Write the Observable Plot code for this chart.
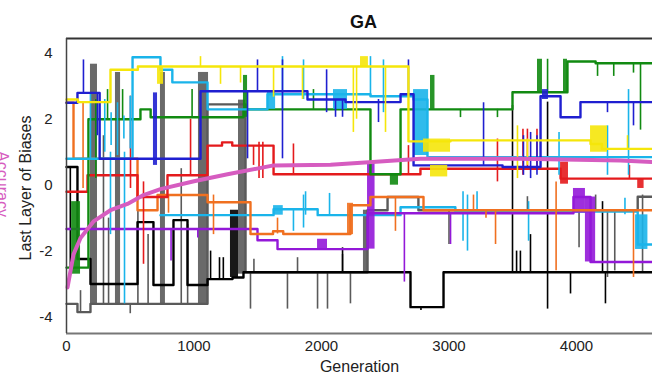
<!DOCTYPE html>
<html><head><meta charset="utf-8">
<script src="https://cdn.jsdelivr.net/npm/d3@7"></script>
<script src="https://cdn.jsdelivr.net/npm/@observablehq/plot@0.6"></script>
<style>
html,body{margin:0;padding:0;background:#fff;overflow:hidden;}
</style></head>
<body><div id="chart"></div>
<script>
const title = "GA";
const xLabel = "Generation";
const yLabel = "Last Layer of Biases";
const sideLabel = "Accuracy";
const xTicks = [0, 1000, 2000, 3000, 4000];
const yTicks = [-4, -2, 0, 2, 4];
const xDomain = [0, 4596];
const yDomain = [-4.5, 4.45];

// step series [generation, value]
const graySteps = [[0,-3.6],[86,-3.85],[188,-3.6],[1106,2.45],[1404,-2.64],[2361,-0.76],[2518,-0.36],[2760,-0.76],[4480,-0.35],[4600,-0.35]];
const grayBlocks = [[188,243,-3.6,3.67],[384,424,-3.6,3.42],[737,776,-3.6,3.42],[1035,1114,-3.6,3.42],[1349,1404,-2.7,2.58],[2329,2361,-2.64,-0.76]];
const graySpikes = [[290,-3.6,1.5],[330,-3.6,-1.0],[560,-3.6,-0.8],[640,-3.6,-1.5],[900,-3.6,0.5],[950,-3.6,-1.2],[110,-3.85,-3.2],[500,-3.6,-3.9],[1443,-2.64,-3.76],[1733,-2.64,-3.76],[1969,-2.64,-3.76],[2047,-2.64,-3.76],[2227,-2.64,-3.6],[1470,-2.64,-2.25],[1812,-2.64,-2.2],[2165,-2.64,-2.1],[3615,-0.76,-0.35],[3000,-0.76,-1.8],[4020,-0.76,-1.9],[4150,-0.76,-0.3],[4243,-0.76,-2.8],[4300,-0.76,-2.6],[4518,-0.3,-2.64]];

const blackSteps = [[0,0.55],[86,-2.24],[188,-3.0],[557,-1.12],[682,-3.03],[839,-1.06],[949,-3.03],[1106,-2.85],[1302,-2.8],[1388,-2.64],[2698,-3.7],[2957,-2.64],[4600,-2.64]];
const blackBlocks = [[1286,1349,-2.8,-0.76]];
const blackSpikes = [[30,0.55,-2.5],[3498,2.42,-2.64],[3773,2.52,-3.76],[3530,-2.0,-2.64],[3560,-2.0,-2.64],[3639,-1.5,-2.64],[4204,-0.5,-2.64],[3953,-2.64,-3.3],[4227,-2.64,-3.6],[1130,-2.85,-2.0],[1200,-2.85,-2.2],[1230,-2.85,-2.2],[2165,-2.64,-1.9],[2780,-3.7,-3.8]];

const lb2Steps = [[737,-0.91],[1624,-0.73],[1970,-0.91],[2620,-0.67],[3050,-0.8],[4480,-1.8],[4600,-1.8]];
const lb2Blocks = [[1624,1700,-0.91,-0.62],[4463,4560,-0.9,-1.95]];
const lb2Spikes = [[1859,-0.3,-1.3],[1780,-0.73,-1.4],[1875,-0.2,-0.91],[2063,-0.25,-0.91],[3110,-0.2,-1.7],[3220,-0.2,-0.8],[3624,-0.5,-1.7],[4380,-0.4,-0.9],[3145,-0.3,-2.0]];

const purpleSteps = [[0,-1.33],[1498,-1.67],[1655,-1.94],[2361,-0.85],[3976,-0.36],[4110,-2.33],[4600,-2.33]];
const purpleBlocks = [[2361,2420,-1.94,0.7],[1969,2047,-1.94,-1.64],[3976,4070,-0.85,-0.1],[4070,4150,-2.33,-0.36]];
const purpleSpikes = [[2650,-0.85,-2.94],[820,-1.33,-2.3],[1030,-1.33,-1.6],[3012,-0.85,-1.8]];

const orangeSteps = [[0,2.5],[55,0.8],[557,-0.76],[714,-0.3],[1106,-0.52],[1443,-1.48],[1620,-1.4],[1700,-1.48],[2227,-0.61],[2384,-0.36],[2800,-0.76],[4600,-0.76]];
const orangeBlocks = [[2204,2251,-1.5,-0.55]];
const orangeSpikes = [[1153,-0.3,-1.5],[1655,-1.48,-1.0],[2580,-0.36,-1.4],[3192,-0.3,-0.76],[3365,-0.76,-1.8],[3290,-0.76,-1.0],[3840,0.1,-2.6],[4447,-0.8,-2.8],[800,-0.3,-0.85],[130,2.5,-0.1]];

const redSteps = [[0,-0.2],[165,0.3],[557,-0.36],[792,0.3],[1106,1.2],[1220,1.3],[1300,1.2],[1624,0.33],[2776,0.5],[3875,0.2],[4600,0.2]];
const redBlocks = [[3875,3937,0.03,0.7],[4480,4530,-0.1,0.2]];
const redSpikes = [[502,2.7,-0.1],[604,0.1,-2.4],[1467,1.2,0.6],[1780,1.25,0.33],[1510,1.3,0.2],[1540,1.3,0.2],[2682,1.2,0.3],[3380,0.1,1.4],[3580,0.3,1.7],[3615,0.5,1.7],[3690,0.5,1.7],[4415,0.2,0.6],[973,0.3,2.0]];

const greenSteps = [[0,-2.5],[172,2.0],[580,2.3],[660,2.06],[1388,2.3],[2384,0.33],[2620,2.3],[3498,2.82],[3929,3.75],[4150,3.7],[4600,3.7]];
const greenBlocks = [[1388,1420,2.06,3.33],[2855,2890,2.3,3.33],[2540,2604,0.0,0.33],[3694,3733,2.82,3.82],[3898,3929,2.8,3.82],[40,110,-2.7,-0.5]];
const greenSpikes = [[985,2.06,2.9],[1937,2.3,2.9],[230,0.2,2.6],[322,2.0,2.9],[440,2.0,2.9],[3773,2.82,3.82],[4165,3.7,3.3],[4292,3.7,3.3],[4447,3.7,3.4],[4502,3.7,1.67],[3090,2.3,2.05],[3380,2.3,2.05]];

const lb1Steps = [[0,0.8],[518,3.88],[737,3.5],[830,3.12],[1106,2.3],[1576,2.76],[2384,2.7],[2722,2.6],[2831,0.85],[4600,0.85]];
const lb1Blocks = [[1576,1640,2.3,2.85],[2094,2204,2.3,2.9],[2722,2840,0.9,2.9]];
const lb1Spikes = [[188,0.8,2.8],[300,1.0,2.6],[350,1.2,2.2],[400,0.9,2.5],[450,1.4,2.1],[500,1.1,2.7],[455,1.0,-3.6],[345,1.0,-1.5],[1694,3.9,2.3],[1859,3.8,2.6],[2486,3.8,2.2],[2384,3.9,2.7],[3863,0.3,1.6],[4243,0.3,1.8],[4408,0.3,2.9]];

const blueSteps = [[0,2.5],[86,2.8],[260,0.8],[1051,2.85],[1890,2.6],[2188,2.52],[2620,2.76],[2722,0.6],[3420,0.55],[3718,2.7],[3875,2.06],[4031,2.52],[4600,2.52]];
const blueBlocks = [[682,714,0.6,2.8],[3733,3780,2.6,2.9]];
const blueSpikes = [[133,2.8,3.8],[243,2.8,1.5],[1420,2.85,0.8],[1498,2.85,3.8],[1694,3.8,0.8],[2040,3.5,2.2],[2110,2.6,2.06],[2165,2.6,2.06],[2447,2.6,1.9],[2682,2.76,3.8],[3271,0.6,2.5],[3584,0.3,1.5],[3640,0.2,1.6],[3690,0.3,1.5],[4243,2.52,2.2],[4447,2.52,1.8]];

const yellowSteps = [[0,2.6],[90,2.52],[345,3.5],[560,3.6],[2682,1.33],[3012,1.36],[4110,1.25],[4200,1.1],[4600,1.1]];
const yellowBlocks = [[714,761,3.06,3.6],[2306,2368,3.6,3.9],[2800,3012,1.0,1.4],[2855,2990,0.25,0.6],[4110,4243,1.0,1.8]];
const yellowSpikes = [[1051,3.6,3.9],[1208,3.6,3.06],[1365,3.6,3.1],[1624,3.6,2.67],[1851,3.6,2.6],[2250,3.6,1.6],[2275,3.6,2.0],[2502,3.6,1.6],[3537,0.2,1.8],[3615,0.6,1.4],[4400,1.1,1.5]];

const avgPoints = [[8,-3.1],[55,-2.1],[110,-1.6],[212,-1.1],[345,-0.76],[478,-0.57],[604,-0.3],[737,-0.12],[1000,0.12],[1263,0.33],[1624,0.6],[2071,0.62],[2400,0.7],[2776,0.8],[3561,0.8],[4345,0.75],[4596,0.7]];

const series = [
  {steps: graySteps, blocks: grayBlocks, spikes: graySpikes, color: "#5a5a5a"},
  {steps: blackSteps, blocks: blackBlocks, spikes: blackSpikes, color: "#000000"},
  {steps: lb2Steps, blocks: lb2Blocks, spikes: lb2Spikes, color: "#1ab4ea"},
  {steps: purpleSteps, blocks: purpleBlocks, spikes: purpleSpikes, color: "#9318d8"},
  {steps: orangeSteps, blocks: orangeBlocks, spikes: orangeSpikes, color: "#f07020"},
  {steps: redSteps, blocks: redBlocks, spikes: redSpikes, color: "#e41a1c"},
  {steps: greenSteps, blocks: greenBlocks, spikes: greenSpikes, color: "#118a11"},
  {steps: lb1Steps, blocks: lb1Blocks, spikes: lb1Spikes, color: "#1ab4ea"},
  {steps: blueSteps, blocks: blueBlocks, spikes: blueSpikes, color: "#1f1fd0"},
  {steps: yellowSteps, blocks: yellowBlocks, spikes: yellowSpikes, color: "#f5e60a"}
];

const marks = [];
for (const s of series) {
  marks.push(Plot.rect(s.blocks, {x1: d => d[0], x2: d => d[1], y1: d => d[2], y2: d => d[3], fill: s.color, fillOpacity: 0.9}));
  marks.push(Plot.ruleX(s.spikes, {x: d => d[0], y1: d => d[1], y2: d => d[2], stroke: s.color, strokeWidth: 1.6}));
  marks.push(Plot.line(s.steps, {x: d => d[0], y: d => d[1], curve: "step-after", stroke: s.color, strokeWidth: 2.4}));
}
marks.push(Plot.line(avgPoints, {x: d => d[0], y: d => d[1], stroke: "#d65cc0", strokeWidth: 4, curve: "linear"}));
marks.push(Plot.ruleY([yDomain[1]], {stroke: "#333", strokeWidth: 2}));
marks.push(Plot.ruleY([yDomain[0]], {stroke: "#777", strokeWidth: 2}));
marks.push(Plot.ruleX([xDomain[0]], {stroke: "#444", strokeWidth: 1.5}));
marks.push(Plot.text([title], {frameAnchor: "top", dy: -23, dx: 4, fontSize: 18, fontWeight: "bold", fill: "#111", textAnchor: "middle"}));
marks.push(Plot.text([yLabel], {frameAnchor: "left", dx: -41, dy: 2, rotate: -90, fontSize: 16, fill: "#222", textAnchor: "middle"}));
marks.push(Plot.text([xLabel], {frameAnchor: "bottom", dy: 38, fontSize: 16, fill: "#222", textAnchor: "middle"}));
marks.push(Plot.text([sideLabel], {frameAnchor: "left", dx: -64, dy: -2, rotate: 90, fontSize: 16, fill: "#d65cc0", textAnchor: "middle"}));

const chart = Plot.plot({
  width: 652,
  height: 379,
  marginTop: 38,
  marginBottom: 46,
  marginLeft: 66,
  marginRight: 0,
  style: {fontFamily: "'Liberation Sans', Arial, sans-serif", fontSize: "15px", color: "#222", background: "#fff"},
  x: {domain: xDomain, ticks: xTicks, tickFormat: d => String(d), tickSize: 0, tickPadding: 7, label: null},
  y: {domain: yDomain, ticks: yTicks, tickFormat: d => String(d), tickSize: 0, tickPadding: 14, label: null},
  marks
});
document.getElementById("chart").appendChild(chart);
</script>
</body></html>
